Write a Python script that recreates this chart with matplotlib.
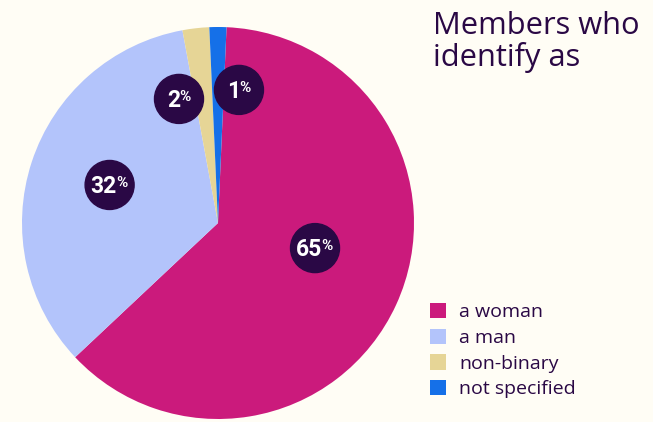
import matplotlib.pyplot as plt
from matplotlib.patches import Circle

# slice shares as drawn (angles) and the printed labels
groups = ['a woman', 'a man', 'non-binary', 'not specified']
shares = [62.3, 34.1, 2.2, 1.4]
pct_labels = ['65', '32', '2', '1']
colors = ['#cb1a7c', '#b3c4fb', '#e6d596', '#1570e8']

# where the dark label badges sit (pie data coords, radius = 1)
badge_pos = [(0.495, -0.128), (-0.553, 0.194), (-0.199, 0.633), (0.107, 0.679)]

BG = '#fffdf5'
DARK = '#2a0845'

fig = plt.figure(figsize=(6.53, 4.22), dpi=100)
fig.patch.set_facecolor(BG)

ax = fig.add_axes([22 / 653, 3 / 422, 392 / 653, 392 / 422])
ax.set_facecolor(BG)
wedges, _ = ax.pie(shares, colors=colors, startangle=87.5, counterclock=False,
                   radius=1, wedgeprops=dict(linewidth=0))
ax.set_xlim(-1, 1)
ax.set_ylim(-1, 1)
ax.set_aspect('equal')
ax.axis('off')

num_font = ['Roboto', 'DejaVu Sans']
for (x, y), lab in zip(badge_pos, pct_labels):
    ax.add_patch(Circle((x, y), 0.125, color=DARK, zorder=3))
    # split point so that number + small % are centred together
    off = (12.0 * len(lab) - 10) / 2 * 0.72
    ax.annotate(lab, (x, y), xytext=(off, -0.8), textcoords='offset points',
                ha='right', va='center', color='white', fontsize=16.5,
                fontweight='bold', family=num_font, zorder=4)
    ax.annotate('%', (x, y), xytext=(off - 0.5, 6.5), textcoords='offset points',
                ha='left', va='top', color='white', fontsize=11,
                fontweight='bold', family=num_font, zorder=4)

fig.text(433 / 653, 1 - 11 / 422, 'Members who\nidentify as', ha='left', va='top',
         fontsize=22.2, color=DARK, family=['Open Sans', 'DejaVu Sans'],
         linespacing=1.03)

leg = fig.legend(wedges, groups, loc='upper left',
                 bbox_to_anchor=(430 / 653, 1 - 303 / 422), frameon=False,
                 prop=dict(family=['Open Sans', 'DejaVu Sans'], size=14),
                 handlelength=0.82, handleheight=0.82, handletextpad=0.67,
                 labelspacing=0.38, borderpad=0, borderaxespad=0)
for t in leg.get_texts():
    t.set_color(DARK)

plt.savefig('out.png', dpi=100, facecolor=BG)
